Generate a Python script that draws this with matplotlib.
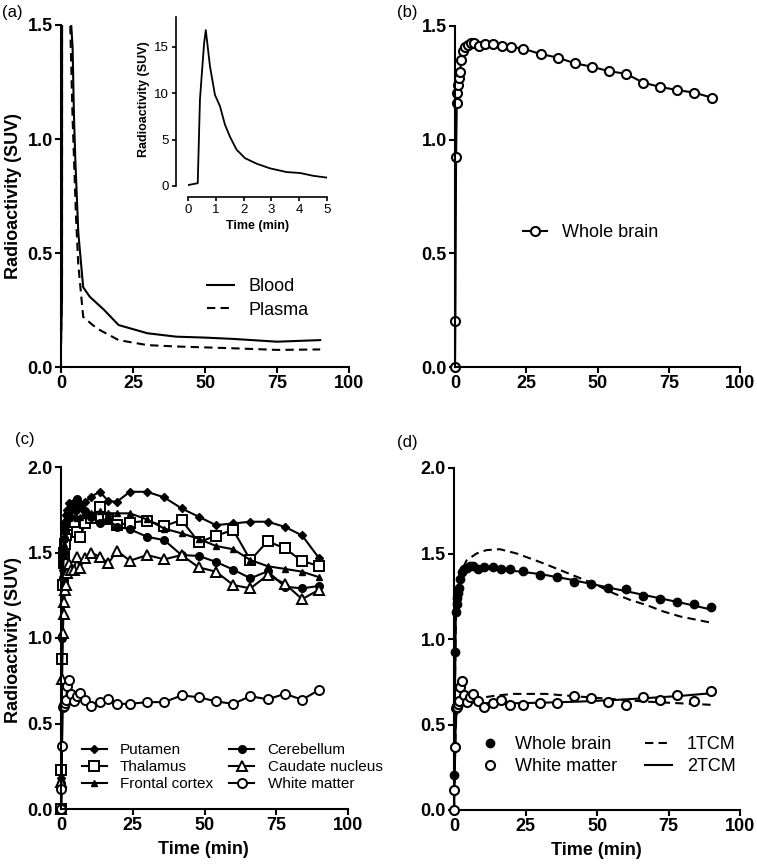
import matplotlib
matplotlib.use("Agg")
import matplotlib.pyplot as plt
from matplotlib.lines import Line2D

plt.rcParams['font.family'] = ['Liberation Sans', 'DejaVu Sans']

# ---------------- data ----------------
# (a) blood / plasma input curves (min, SUV)
blood_t = [0, 0.35, 0.43, 0.49, 0.58, 0.64, 0.79, 0.97, 1.15, 1.33, 1.51, 1.75, 2.05,
           2.47, 2.95, 3.55, 4.03, 4.5, 5.0, 6.0, 7.7, 10, 15, 20, 30, 40, 50, 60, 75, 90]
blood_v = [0.1, 0.3, 9.3, 11.8, 15.4, 16.8, 12.9, 9.8, 8.6, 6.6, 5.3, 3.9, 3.0,
           2.4, 1.9, 1.5, 1.4, 1.1, 0.9, 0.59, 0.35, 0.308, 0.25, 0.184, 0.148, 0.133,
           0.129, 0.123, 0.111, 0.118]
plasma_t = [0, 0.35, 0.45, 0.55, 0.65, 1.0, 1.5, 2.0, 2.5, 3.0, 4.0, 5.2, 6.0, 7.7,
            11, 13.5, 20, 30, 40, 50, 60, 75, 90]
plasma_v = [0.1, 0.4, 10, 15, 18, 12, 6, 3.5, 2.3, 1.6, 1.1, 0.66, 0.45, 0.22,
            0.184, 0.162, 0.118, 0.096, 0.09, 0.086, 0.082, 0.075, 0.077]

# frame mid times for regional time-activity curves (min)
frame_t = [0, 0.125, 0.375, 0.625, 0.875, 1.125, 1.375, 1.75, 2.25, 2.75, 3.5, 4.5,
           5.5, 6.5, 8.5, 10.5, 13.5, 16.5, 19.5, 24, 30, 36, 42, 48, 54, 60, 66, 72,
           78, 84, 90]
whole_brain = [0, 0.204, 0.922, 1.160, 1.204, 1.241, 1.270, 1.299, 1.351, 1.390, 1.409,
               1.417, 1.424, 1.424, 1.412, 1.419, 1.419, 1.412, 1.409, 1.400, 1.377,
               1.361, 1.336, 1.321, 1.301, 1.290, 1.251, 1.232, 1.218, 1.207, 1.185]
putamen = [0, 0.18, 1.02, 1.40, 1.55, 1.62, 1.68, 1.72, 1.75, 1.79, 1.78, 1.77, 1.75,
           1.778, 1.797, 1.826, 1.856, 1.80, 1.797, 1.855, 1.855, 1.822, 1.758, 1.709,
           1.66, 1.67, 1.68, 1.68, 1.65, 1.60, 1.465]
thalamus = [0, 0.228, 0.875, 1.31, 1.44, 1.50, 1.55, 1.60, 1.64, 1.66, 1.70, 1.68, 1.62,
            1.589, 1.67, 1.70, 1.768, 1.693, 1.661, 1.674, 1.686, 1.655, 1.69, 1.56,
            1.598, 1.632, 1.455, 1.566, 1.524, 1.45, 1.421]
frontal = [0, 0.17, 1.0, 1.35, 1.48, 1.55, 1.60, 1.64, 1.67, 1.70, 1.72, 1.71, 1.70,
           1.71, 1.72, 1.73, 1.74, 1.73, 1.729, 1.729, 1.693, 1.64, 1.612, 1.58, 1.538,
           1.519, 1.456, 1.42, 1.404, 1.388, 1.355]
cerebellum = [0, 0.15, 1.0, 1.35, 1.50, 1.58, 1.63, 1.68, 1.72, 1.75, 1.77, 1.79, 1.81,
              1.78, 1.74, 1.71, 1.674, 1.69, 1.651, 1.636, 1.592, 1.572, 1.485, 1.48,
              1.445, 1.40, 1.349, 1.39, 1.30, 1.29, 1.305]
caudate = [0, 0.16, 0.76, 1.03, 1.14, 1.21, 1.28, 1.31, 1.38, 1.43, 1.40, 1.40, 1.475,
           1.408, 1.47, 1.50, 1.475, 1.437, 1.51, 1.452, 1.485, 1.46, 1.485, 1.413,
           1.388, 1.31, 1.29, 1.368, 1.318, 1.227, 1.283]
white_matter = [0, 0.117, 0.371, 0.596, 0.61, 0.60, 0.62, 0.64, 0.72, 0.752, 0.673,
                0.63, 0.66, 0.678, 0.635, 0.602, 0.625, 0.645, 0.615, 0.615, 0.625,
                0.625, 0.664, 0.654, 0.629, 0.615, 0.66, 0.641, 0.674, 0.639, 0.697]

# (d) model fits
wb_1tcm_t = [0, 0.3, 0.7, 1.2, 2, 3, 4.4, 7.9, 11.4, 16.1, 21.9, 31.2, 42.9, 49.9, 55.7,
             61.5, 67.4, 73.2, 79, 90]
wb_1tcm_v = [0, 0.7, 1.15, 1.30, 1.36, 1.41, 1.46, 1.50, 1.52, 1.525, 1.50, 1.443, 1.364,
             1.316, 1.268, 1.229, 1.198, 1.161, 1.132, 1.095]
wb_2tcm_t = [0, 0.3, 0.6, 1, 1.5, 2, 2.5, 3, 4, 6, 10, 15, 20, 25, 30, 40, 50, 60, 70, 80, 90]
wb_2tcm_v = [0, 0.6, 1.1, 1.22, 1.30, 1.35, 1.38, 1.40, 1.41, 1.41, 1.41, 1.408, 1.40,
             1.39, 1.38, 1.35, 1.315, 1.28, 1.245, 1.21, 1.172]
wm_1tcm_t = [0, 0.3, 0.6, 1, 2, 4, 9, 15, 21, 32, 44, 56, 67, 79, 90]
wm_1tcm_v = [0, 0.25, 0.48, 0.58, 0.63, 0.645, 0.655, 0.67, 0.679, 0.679, 0.663, 0.648,
             0.634, 0.624, 0.615]
wm_2tcm_t = [0, 0.3, 0.6, 1, 2, 4, 9, 20, 32, 44, 56, 67, 79, 90]
wm_2tcm_v = [0, 0.25, 0.5, 0.6, 0.63, 0.635, 0.625, 0.624, 0.628, 0.634, 0.643, 0.654,
             0.667, 0.683]

# ---------------- figure ----------------
W, H = 757, 867
fig = plt.figure(figsize=(W / 100, H / 100), dpi=100)


def rect(l, r, t, b):
    return [l / W, 1 - b / H, (r - l) / W, (b - t) / H]


LW = 1.5
TICKFS = 13


def style(ax, ymax, yticks):
    for s in ['top', 'right']:
        ax.spines[s].set_visible(False)
    for s in ['left', 'bottom']:
        ax.spines[s].set_linewidth(LW)
    ax.set_xlim(0, 100)
    ax.set_ylim(0, ymax)
    ax.set_xticks([0, 25, 50, 75, 100])
    ax.set_yticks(yticks)
    ax.set_yticklabels([f"{v:.1f}" for v in yticks])
    ax.tick_params(direction='out', length=4, width=LW, labelsize=TICKFS, pad=2)
    for lab in ax.get_xticklabels() + ax.get_yticklabels():
        lab.set_fontweight('bold')


ax_a = fig.add_axes(rect(61, 349, 25, 367))
ax_b = fig.add_axes(rect(455, 740, 26, 367))
ax_c = fig.add_axes(rect(61, 348, 467, 809))
ax_d = fig.add_axes(rect(454, 740, 468, 810))

yt15 = [0.0, 0.5, 1.0, 1.5]
yt20 = [0.0, 0.5, 1.0, 1.5, 2.0]
style(ax_a, 1.5, yt15)
style(ax_b, 1.5, yt15)
style(ax_c, 2.0, yt20)
style(ax_d, 2.0, yt20)

# ---- (a)
ax_a.plot(blood_t, blood_v, color='black', lw=LW, label='Blood')
ax_a.plot(plasma_t, plasma_v, color='black', lw=LW, ls=(0, (4, 2.5)), label='Plasma')
ax_a.legend(loc='center left', bbox_to_anchor=(0.507, 0.20), frameon=False, fontsize=13,
            handlelength=1.5, handletextpad=0.78, labelspacing=0.35, borderpad=0,
            borderaxespad=0)
ax_a.set_ylabel('Radioactivity (SUV)', fontsize=13, fontweight='bold')
ax_a.yaxis.set_label_coords(-0.135, 0.5)

# inset
ax_i = fig.add_axes(rect(188, 327, 17, 186))
ax_i.plot(blood_t, blood_v, color='black', lw=1.3)
ax_i.set_xlim(0, 5)
ax_i.set_ylim(0, 18.2)
for s in ['top', 'right']:
    ax_i.spines[s].set_visible(False)
for s in ['left', 'bottom']:
    ax_i.spines[s].set_linewidth(1.2)
ax_i.spines['left'].set_position(('outward', 8.6))
ax_i.spines['bottom'].set_position(('outward', 7.9))
ax_i.set_xticks([0, 1, 2, 3, 4, 5])
ax_i.set_yticks([0, 5, 10, 15])
ax_i.tick_params(direction='out', length=3, width=1.2, labelsize=9.5, pad=2)
ax_i.set_xlabel('Time (min)', fontsize=9, fontweight='bold')
ax_i.set_ylabel('Radioactivity (SUV)', fontsize=9, fontweight='bold')
ax_i.xaxis.set_label_coords(0.5, -0.2)
ax_i.yaxis.set_label_coords(-0.27, 0.515)

# ---- (b)
ax_b.plot(frame_t, whole_brain, color='black', lw=LW, marker='o', ms=6.5, mfc='white',
          mec='black', mew=1.5, clip_on=False, label='Whole brain')
ax_b.legend(loc='center left', bbox_to_anchor=(0.2375, 0.394), frameon=False, fontsize=13,
            handlelength=1.33, handletextpad=0.83, borderpad=0, borderaxespad=0)

# ---- (c)
common = dict(color='black', lw=LW, mec='black', clip_on=False)
h_put, = ax_c.plot(frame_t, putamen, marker='D', ms=4.5, mfc='black', label='Putamen', **common)
h_tha, = ax_c.plot(frame_t, thalamus, marker='s', ms=6.5, mfc='white', mew=1.4, label='Thalamus', **common)
h_fro, = ax_c.plot(frame_t, frontal, marker='^', ms=5, mfc='black', label='Frontal cortex', **common)
h_cer, = ax_c.plot(frame_t, cerebellum, marker='o', ms=5.5, mfc='black', label='Cerebellum', **common)
h_cau, = ax_c.plot(frame_t, caudate, marker='^', ms=7, mfc='white', mew=1.4, label='Caudate nucleus', **common)
h_wm, = ax_c.plot(frame_t, white_matter, marker='o', ms=6.5, mfc='white', mew=1.4, label='White matter', **common)
ax_c.legend(handles=[h_put, h_tha, h_fro, h_cer, h_cau, h_wm], ncol=2, loc='center left',
            bbox_to_anchor=(0.072, 0.122), frameon=False, fontsize=11, handlelength=1.63,
            handletextpad=0.87, labelspacing=0.19, columnspacing=1.08, borderpad=0,
            borderaxespad=0)
ax_c.set_ylabel('Radioactivity (SUV)', fontsize=13, fontweight='bold')
ax_c.yaxis.set_label_coords(-0.135, 0.494)
ax_c.set_xlabel('Time (min)', fontsize=13, fontweight='bold')
ax_c.xaxis.set_label_coords(0.495, -0.095)

# ---- (d)
h_wb, = ax_d.plot(frame_t, whole_brain, ls='none', marker='o', ms=6, mfc='black', mec='black',
                  clip_on=False, label='Whole brain', zorder=3)
h_wmd, = ax_d.plot(frame_t, white_matter, ls='none', marker='o', ms=6.5, mfc='white',
                   mec='black', mew=1.5, clip_on=False, label='White matter', zorder=3)
h_1, = ax_d.plot(wb_1tcm_t, wb_1tcm_v, color='black', lw=LW, ls=(0, (4, 2.5)), label='1TCM')
ax_d.plot(wm_1tcm_t, wm_1tcm_v, color='black', lw=LW, ls=(0, (4, 2.5)))
h_2, = ax_d.plot(wb_2tcm_t, wb_2tcm_v, color='black', lw=LW, label='2TCM')
ax_d.plot(wm_2tcm_t, wm_2tcm_v, color='black', lw=LW)
leg1 = ax_d.legend(handles=[h_wb, h_wmd], loc='center left', bbox_to_anchor=(0.080, 0.159),
                   frameon=False, fontsize=13, handlelength=1.45, handletextpad=0.67,
                   labelspacing=0.27, borderpad=0, borderaxespad=0)
ax_d.add_artist(leg1)
ax_d.legend(handles=[h_1, h_2], loc='center left', bbox_to_anchor=(0.668, 0.159),
            frameon=False, fontsize=13, handlelength=1.5, handletextpad=0.83,
            labelspacing=0.27, borderpad=0, borderaxespad=0)
ax_d.set_xlabel('Time (min)', fontsize=13, fontweight='bold')
ax_d.xaxis.set_label_coords(0.499, -0.095)

# panel labels
for txt, x, y in [('(a)', 2, 13), ('(b)', 397, 12), ('(c)', 15, 440), ('(d)', 397, 443)]:
    fig.text(x / W, 1 - y / H, txt, fontsize=12, ha='left', va='center')

fig.savefig('out.png', dpi=100)
